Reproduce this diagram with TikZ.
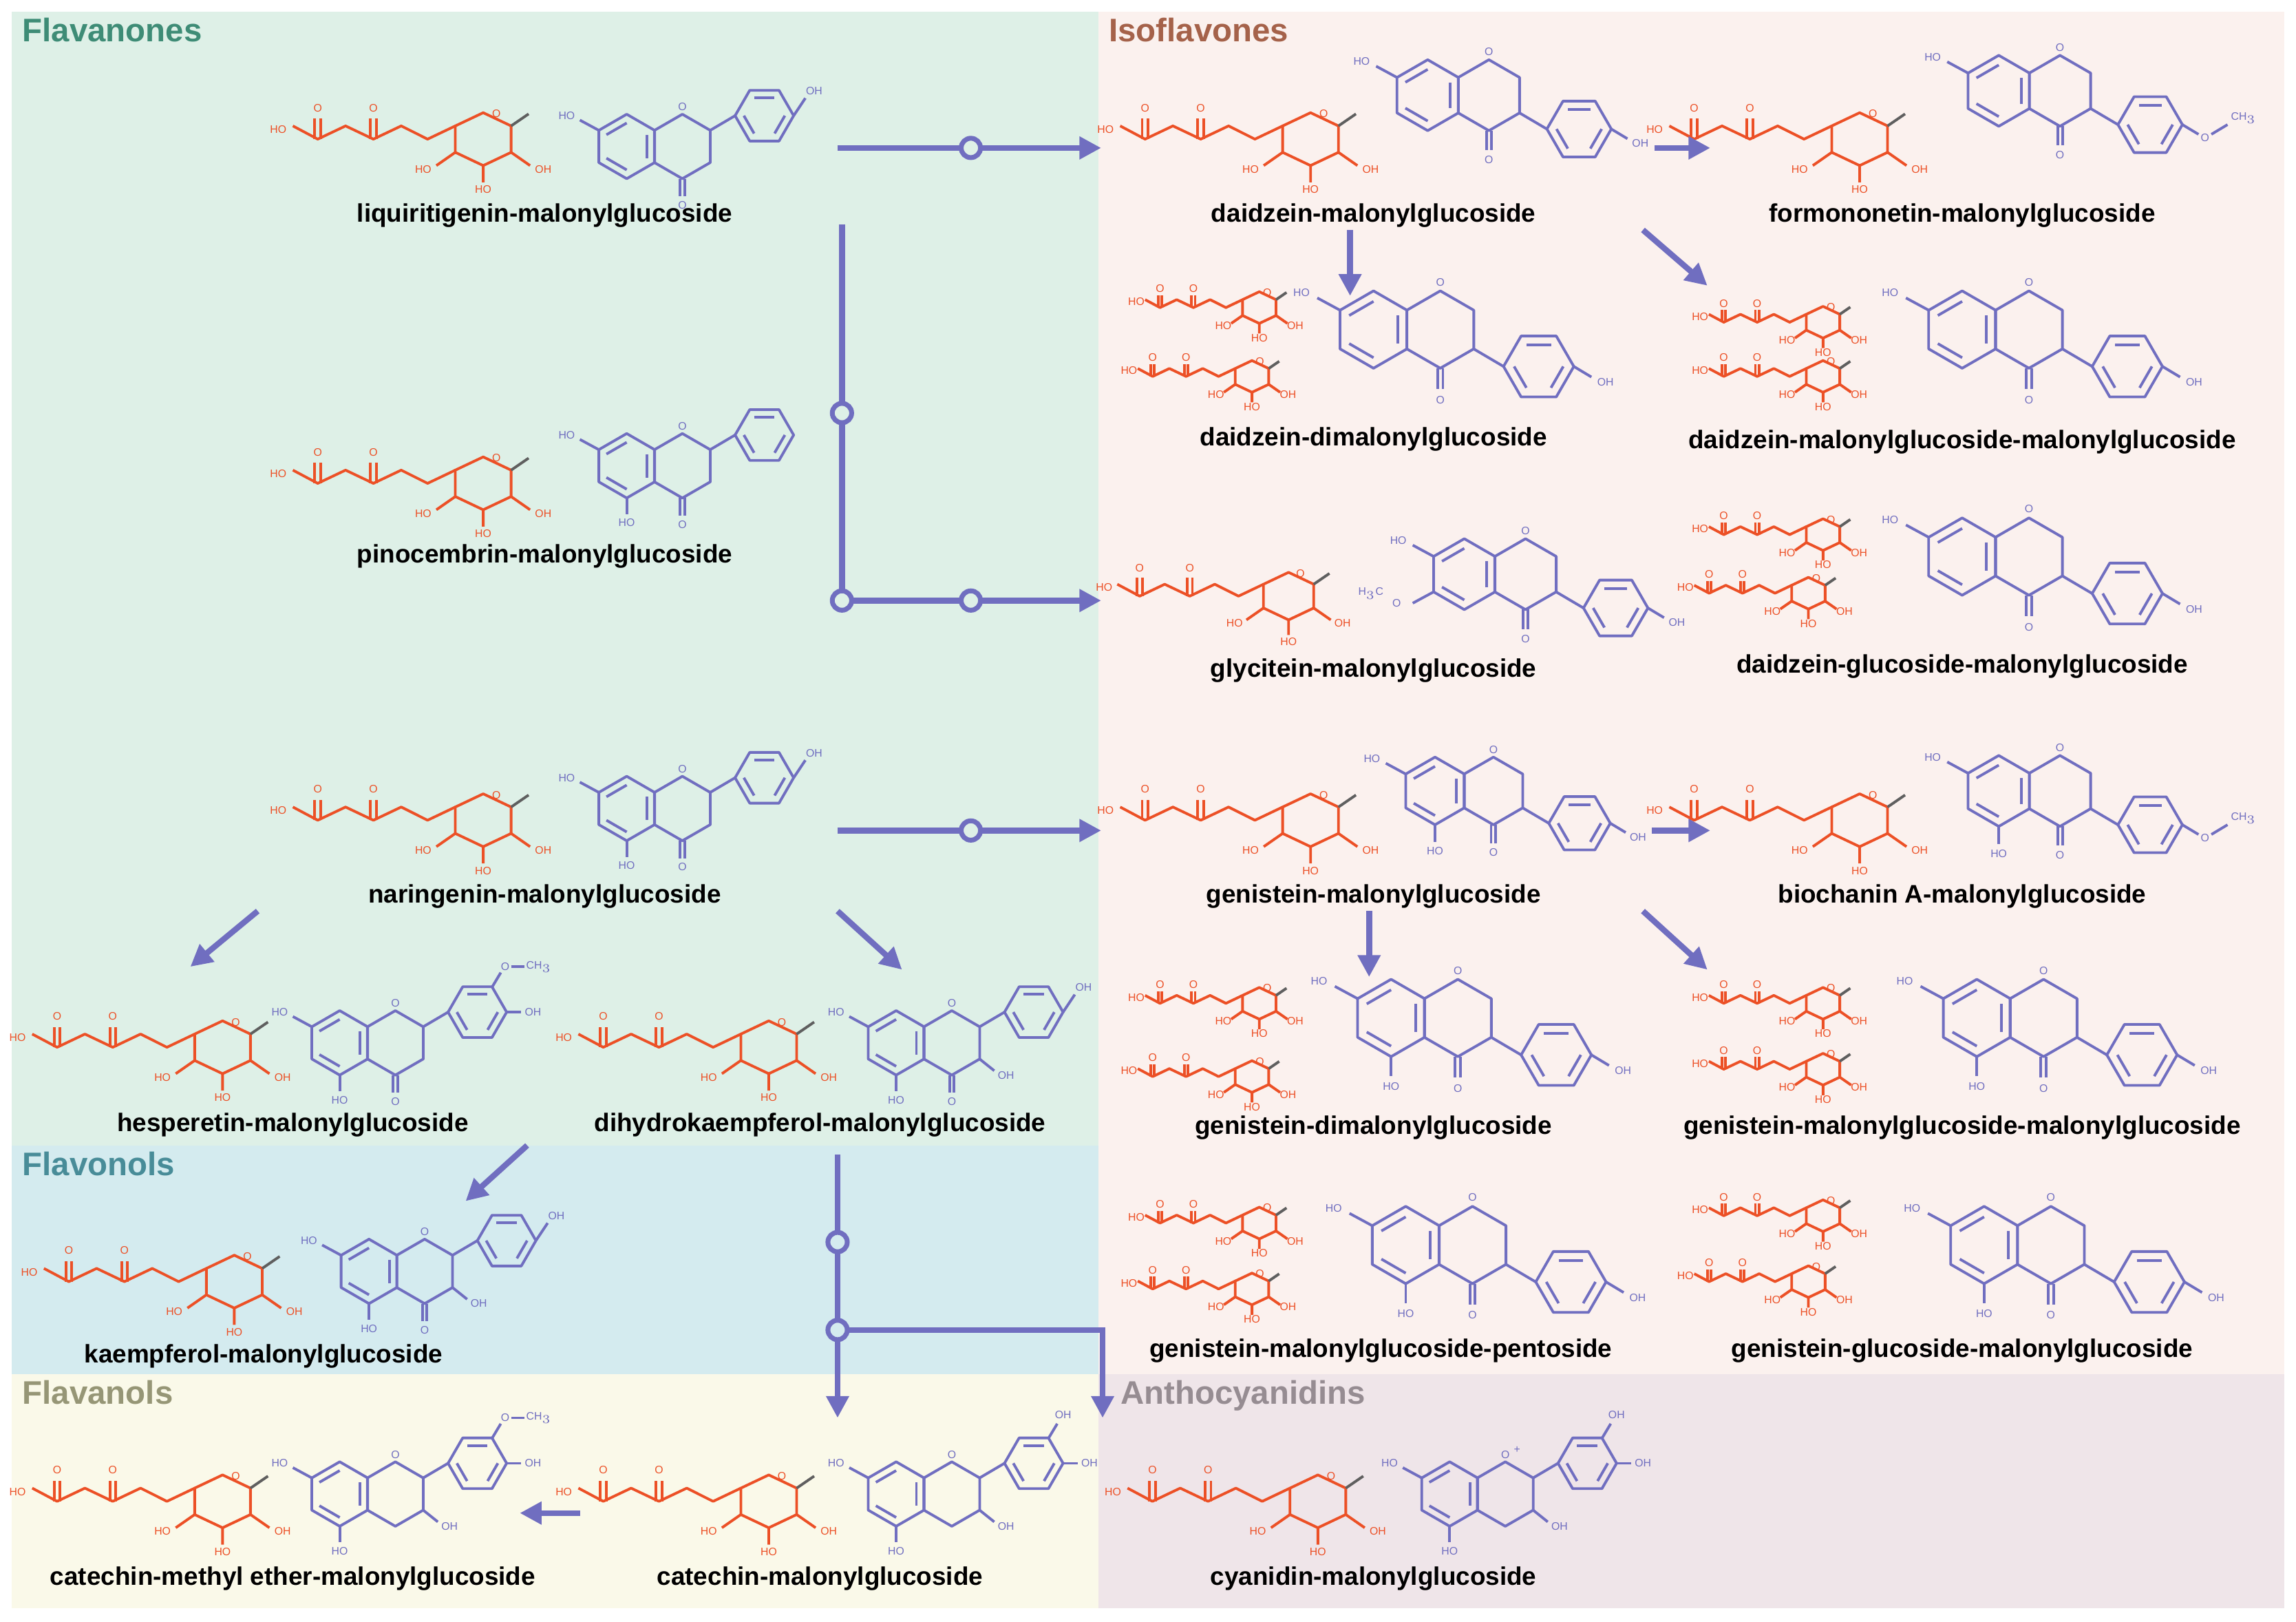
\documentclass[tikz,border=0pt]{standalone}
\usepackage{fontspec}
\setmainfont{Liberation Sans}
\usetikzlibrary{arrows.meta}
\definecolor{MolRed}{RGB}{236,80,38}
\definecolor{MolBlue}{RGB}{112,110,192}
\definecolor{LinkGray}{RGB}{95,95,95}
\definecolor{BgGreen}{RGB}{222,240,231}
\definecolor{BgPink}{RGB}{251,241,238}
\definecolor{BgBlue}{RGB}{212,235,239}
\definecolor{BgYellow}{RGB}{250,249,233}
\definecolor{BgMauve}{RGB}{239,229,233}
\definecolor{TGreen}{RGB}{62,140,118}
\definecolor{TBrown}{RGB}{165,98,74}
\definecolor{TTeal}{RGB}{72,140,152}
\definecolor{TOlive}{RGB}{150,150,118}
\definecolor{TGrey}{RGB}{150,140,146}
\tikzset{
  sugar/.style={draw=MolRed, line width=1.1pt, line join=round},
  core/.style={draw=MolBlue, line width=1.1pt, line join=round},
  ratom/.style={font=\fontsize{4.5}{5}\selectfont, inner sep=0.5pt, text=MolRed},
  batom/.style={font=\fontsize{4.5}{5}\selectfont, inner sep=0.5pt, text=MolBlue},
  cname/.style={font=\bfseries\fontsize{10.5}{12}\selectfont},
  ctitle/.style={font=\bfseries\fontsize{13.5}{15}\selectfont, anchor=north west, inner sep=0pt},
  route/.style={draw=MolBlue, line width=2.4pt, -{Triangle[length=9pt,width=9pt]}},
  link/.style={draw=MolBlue, line width=2.4pt},
  step/.style={circle, draw=MolBlue, line width=2pt, minimum size=8pt, inner sep=0pt, fill=#1},
  step/.default=BgGreen,
}
% malonyl glucoside, #1 ring centre, #2 scale
\newcommand{\malglc}[2]{%
\begin{scope}[shift={#1},shift={(0,-5)},scale=#2,yscale=0.82]
\draw[sugar] (30:22) \foreach \a in {90,150,...,330}{--(\a:22)} --cycle;
\draw[sugar] (150:22)--(-32,22) (90:22)--(0,36) (30:22)--(32,22);
\node[ratom] at (-41,25) {HO}; \node[ratom] at (0,42) {HO}; \node[ratom] at (41,25) {OH};
\draw[LinkGray, line width=1.1pt] (330:22)--(31,-21);
\node[ratom] at (9,-21) {O};
\draw[sugar] (210:22)--(-38,0)--(-56,-11)--(-75,0)--(-94,-11)--(-113,0)--(-130,-11);
\draw[sugar] (-77,0)--(-77,-17) (-73,0)--(-73,-17) (-115,0)--(-115,-17) (-111,0)--(-111,-17);
\node[ratom] at (-75,-26) {O}; \node[ratom] at (-113,-26) {O}; \node[ratom] at (-140,-8) {HO};
\end{scope}}
% chromane core, #1 A ring centre, #2 scale, #3 extras
\newcommand{\core}[3]{%
\begin{scope}[shift={#1},scale=#2]
\draw[core] (30:22) \foreach \a in {90,150,...,330}{--(\a:22)} --cycle;
\foreach \a in {90,210,330} \draw[core] (\a:16)--(\a+60:16);
\begin{scope}[shift={(38,0)}]
\draw[core] (30:22) \foreach \a in {90,150,...,330}{--(\a:22)} --cycle;
\end{scope}
\draw[core] (210:22)--(-32,-18); \node[batom] at (-41,-21) {HO};
\node[batom] at (38,-27) {O};
#3
\end{scope}}
\newcommand{\keto}{\draw[core] (36.5,22)--(36.5,34) (39.5,22)--(39.5,34); \node[batom] at (38,40) {O};}
\newcommand{\fiveOH}{\draw[core] (0,22)--(0,33); \node[batom] at (0,39) {HO};}
\newcommand{\threeOH}{\draw[core] (57,11)--(67,19); \node[batom] at (75,22) {OH};}
\newcommand{\ringB}[2]{%
\draw[core] #1--(74,#2);
\begin{scope}[shift={(94,#2)}]
\draw[core] (0:20) \foreach \a in {60,120,...,300}{--(\a:20)} --cycle;
\foreach \a in {0,120,240} \draw[core] (\a:14)--(\a+60:14);
\end{scope}}
\newcommand{\flavB}{\ringB{(57,-11)}{-21}}
\newcommand{\isoB}{\ringB{(57,11)}{21}}
\newcommand{\ohup}{\draw[core] (114,-21)--(122,-33); \node[batom] at (128,-38) {OH};}
\newcommand{\ohdown}{\draw[core] (114,21)--(124,27); \node[batom] at (132,30) {OH};}
\newcommand{\meodown}{\draw[core] (114,21)--(124,27); \node[batom] at (128,29) {O};
  \draw[core] (132,27)--(142,21); \node[batom] at (152,17) {CH$_3$};}
\newcommand{\meoup}{\draw[core] (104,-38)--(110,-48); \node[batom] at (113,-52) {O};
  \draw[core] (117,-52)--(126,-52); \node[batom] at (136,-52) {CH$_3$};
  \draw[core] (114,-21)--(124,-21); \node[batom] at (132,-21) {OH};}
\newcommand{\catechol}{\draw[core] (104,-38)--(110,-48); \node[batom] at (114,-54) {OH};
  \draw[core] (114,-21)--(124,-21); \node[batom] at (132,-21) {OH};}
\newcommand{\glyMeO}{\draw[core] (150:22)--(-32,18); \node[batom] at (-42,18) {O};
  \node[batom] at (-58,12) {H$_3$C};}
\begin{document}
\begin{tikzpicture}[x=0.02128cm, y=-0.02128cm]
\useasboundingbox (0,0) rectangle (1568,1107);
%Regions
\fill[BgGreen] (8,8) rectangle (750,782);
\fill[BgPink] (750,8) rectangle (1560,938);
\fill[BgBlue] (8,782) rectangle (750,938);
\fill[BgYellow] (8,938) rectangle (750,1098);
\fill[BgMauve] (750,938) rectangle (1560,1098);
\node[ctitle, text=TGreen] (tfn) at (15,12) {Flavanones};
\node[ctitle, text=TBrown] (tif) at (757,12) {Isoflavones};
\node[ctitle, text=TTeal] (tfo) at (15,786) {Flavonols};
\node[ctitle, text=TOlive] (tfa) at (15,942) {Flavanols};
\node[ctitle, text=TGrey] (tan) at (765,942) {Anthocyanidins};
%Flavanones
\malglc{(330,100)}{1} \core{(428,100)}{1}{\keto\flavB\ohup}
\malglc{(330,335)}{1} \core{(428,318)}{1}{\keto\fiveOH\flavB}
\malglc{(330,565)}{1} \core{(428,552)}{1}{\keto\fiveOH\flavB\ohup}
\malglc{(152,720)}{1} \core{(232,712)}{1}{\keto\fiveOH\flavB\meoup}
\malglc{(525,720)}{1} \core{(612,712)}{1}{\keto\fiveOH\flavB\ohup\threeOH}
%Flavonols and flavanols
\malglc{(160,880)}{1} \core{(252,868)}{1}{\keto\fiveOH\flavB\ohup\threeOH}
\malglc{(152,1030)}{1} \core{(232,1020)}{1}{\fiveOH\flavB\meoup\threeOH}
\malglc{(525,1030)}{1} \core{(612,1020)}{1}{\fiveOH\flavB\catechol\threeOH}
%Anthocyanidins
\malglc{(900,1030)}{1} \core{(990,1020)}{1}{\fiveOH\flavB\catechol\threeOH\node[batom] at (46,-30) {+};}
%Isoflavones
\malglc{(895,100)}{1} \core{(975,65)}{1.1}{\keto\isoB\ohdown}
\malglc{(1270,100)}{1} \core{(1365,62)}{1.1}{\keto\isoB\meodown}
\malglc{(860,215)}{0.6} \malglc{(855,262)}{0.6} \core{(938,225)}{1.2}{\keto\isoB\ohdown}
\malglc{(1245,225)}{0.6} \malglc{(1245,262)}{0.6} \core{(1340,225)}{1.2}{\keto\isoB\ohdown}
\malglc{(880,412)}{0.9} \core{(1000,392)}{1.1}{\keto\isoB\ohdown\glyMeO}
\malglc{(1245,370)}{0.6} \malglc{(1235,410)}{0.6} \core{(1340,380)}{1.2}{\keto\isoB\ohdown}
\malglc{(895,565)}{1} \core{(980,540)}{1.05}{\keto\fiveOH\isoB\ohdown}
\malglc{(1270,565)}{1} \core{(1365,540)}{1.1}{\keto\fiveOH\isoB\meodown}
\malglc{(860,690)}{0.6} \malglc{(855,740)}{0.6} \core{(950,695)}{1.2}{\keto\fiveOH\isoB\ohdown}
\malglc{(1245,690)}{0.6} \malglc{(1245,735)}{0.6} \core{(1350,695)}{1.2}{\keto\fiveOH\isoB\ohdown}
\malglc{(860,840)}{0.6} \malglc{(855,885)}{0.6} \core{(960,850)}{1.2}{\keto\fiveOH\isoB\ohdown}
\malglc{(1245,835)}{0.6} \malglc{(1235,880)}{0.6} \core{(1355,850)}{1.2}{\keto\fiveOH\isoB\ohdown}
%Names
\node[cname] (liq) at (372,147) {liquiritigenin-malonylglucoside};
\node[cname] (pin) at (372,380) {pinocembrin-malonylglucoside};
\node[cname] (nar) at (372,612) {naringenin-malonylglucoside};
\node[cname] (hes) at (200,768) {hesperetin-malonylglucoside};
\node[cname] (dhk) at (560,768) {dihydrokaempferol-malonylglucoside};
\node[cname] (kae) at (180,926) {kaempferol-malonylglucoside};
\node[cname] (cme) at (200,1078) {catechin-methyl ether-malonylglucoside};
\node[cname] (cat) at (560,1078) {catechin-malonylglucoside};
\node[cname] (cya) at (938,1078) {cyanidin-malonylglucoside};
\node[cname] (dai) at (938,147) {daidzein-malonylglucoside};
\node[cname] (for) at (1340,147) {formononetin-malonylglucoside};
\node[cname] (ddm) at (938,300) {daidzein-dimalonylglucoside};
\node[cname] (dmm) at (1340,302) {daidzein-malonylglucoside-malonylglucoside};
\node[cname] (gly) at (938,458) {glycitein-malonylglucoside};
\node[cname] (dgm) at (1340,455) {daidzein-glucoside-malonylglucoside};
\node[cname] (gen) at (938,612) {genistein-malonylglucoside};
\node[cname] (bio) at (1340,612) {biochanin A-malonylglucoside};
\node[cname] (gdm) at (938,770) {genistein-dimalonylglucoside};
\node[cname] (gmm) at (1340,770) {genistein-malonylglucoside-malonylglucoside};
\node[cname] (gmp) at (943,922) {genistein-malonylglucoside-pentoside};
\node[cname] (ggm) at (1340,922) {genistein-glucoside-malonylglucoside};
%Routes
\coordinate (r1a) at (572,101); \coordinate (r1b) at (752,101);
\coordinate (r2a) at (575,153); \coordinate (r2b) at (575,410); \coordinate (r2c) at (752,410);
\coordinate (r3a) at (572,567); \coordinate (r3b) at (752,567);
\coordinate (r4a) at (176,622); \coordinate (r4b) at (130,660);
\coordinate (r5a) at (572,622); \coordinate (r5b) at (616,662);
\coordinate (r6a) at (360,782); \coordinate (r6b) at (318,820);
\coordinate (r7a) at (572,788); \coordinate (r7b) at (572,968);
\coordinate (r7c) at (572,908); \coordinate (r7d) at (753,908); \coordinate (r7e) at (753,968);
\coordinate (r8a) at (396,1033); \coordinate (r8b) at (355,1033);
\coordinate (r9a) at (1130,101); \coordinate (r9b) at (1168,101);
\coordinate (r10a) at (1122,157); \coordinate (r10b) at (1166,195);
\coordinate (r11a) at (922,157); \coordinate (r11b) at (922,202);
\coordinate (r12a) at (1128,567); \coordinate (r12b) at (1168,567);
\coordinate (r13a) at (1122,622); \coordinate (r13b) at (1166,662);
\coordinate (r14a) at (935,622); \coordinate (r14b) at (935,667);
\draw[route] (r1a) -- (r1b);
\draw[link] (r2a) -- (r2b); \draw[route] (r2b) -- (r2c);
\draw[route] (r3a) -- (r3b);
\draw[route] (r4a) -- (r4b);
\draw[route] (r5a) -- (r5b);
\draw[route] (r6a) -- (r6b);
\draw[route] (r7a) -- (r7b);
\draw[route] (r7c) -- (r7d) -- (r7e);
\draw[route] (r8a) -- (r8b);
\draw[route] (r9a) -- (r9b);
\draw[route] (r10a) -- (r10b);
\draw[route] (r11a) -- (r11b);
\draw[route] (r12a) -- (r12b);
\draw[route] (r13a) -- (r13b);
\draw[route] (r14a) -- (r14b);
\node[step] (s1) at (663,101) {};
\node[step] (s2) at (575,282) {};
\node[step] (s3) at (575,410) {};
\node[step] (s4) at (663,410) {};
\node[step] (s5) at (663,567) {};
\node[step=BgBlue] (s6) at (572,848) {};
\node[step=BgBlue] (s7) at (572,908) {};
\end{tikzpicture}
\end{document}
